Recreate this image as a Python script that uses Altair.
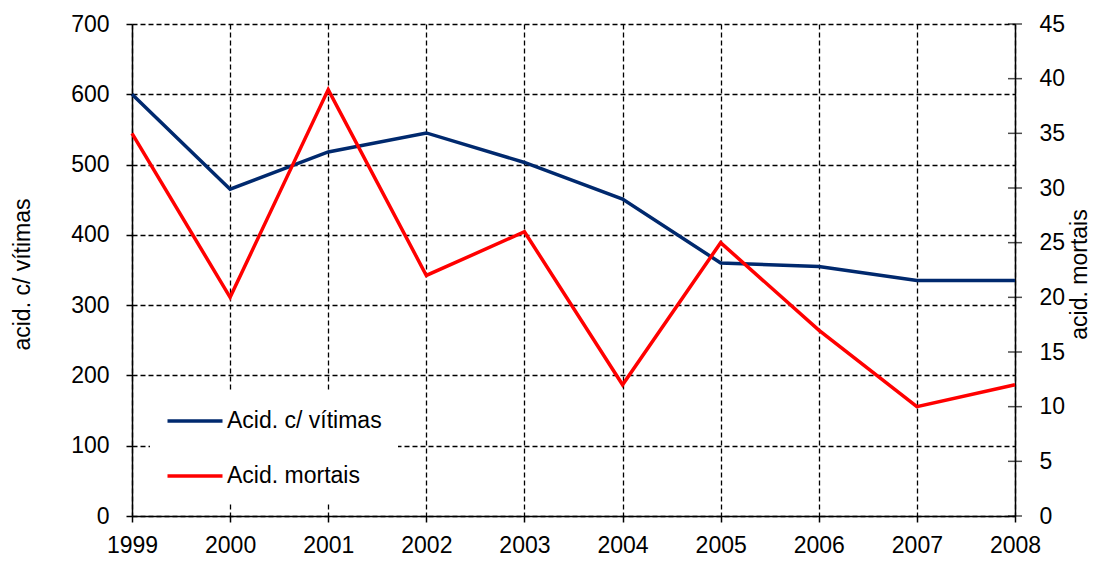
import altair as alt
import pandas as pd

years = [1999, 2000, 2001, 2002, 2003, 2004, 2005, 2006, 2007, 2008]
vitimas = [600, 465, 518, 545, 503, 451, 360, 355, 335, 335]
mortais = [35, 20, 39, 22, 26, 12, 25, 17, 10, 12]
series_names = ["Acid. c/ vítimas", "Acid. mortais"]
series_colors = ["#00296E", "#FF0000"]
left_ticks = [0, 100, 200, 300, 400, 500, 600, 700]
right_ticks = [0, 5, 10, 15, 20, 25, 30, 35, 40, 45]

df_v = pd.DataFrame({"ano": years, "valor": vitimas, "serie": series_names[0]})
df_m = pd.DataFrame({"ano": years, "valor": mortais, "serie": series_names[1]})
df_t = pd.DataFrame({"ano": [years[-1]] * len(right_ticks), "valor": right_ticks})

FONT = "Liberation Sans"
FS = 23

x_enc = alt.X(
    "ano:Q",
    scale=alt.Scale(domain=[1999, 2008], nice=False, zero=False),
    axis=alt.Axis(
        values=years, format="d", title=None,
        grid=True, gridDash=[5, 3], gridColor="black", gridWidth=1.3, gridOpacity=1,
        tickSize=6, tickColor="black", tickWidth=1.5,
        domainColor="black", domainWidth=1.5,
        labelFlush=False, labelOverlap=False,
        labelPadding=12, labelFontSize=FS, labelFont=FONT, labelColor="black",
    ),
)

color_enc = alt.Color(
    "serie:N",
    scale=alt.Scale(domain=series_names, range=series_colors),
    legend=alt.Legend(
        title=None, orient="none", legendX=18, legendY=368,
        fillColor="white", padding=16, symbolType="M-2.5,0H2.5", symbolSize=484,
        symbolOffset=16, symbolStrokeWidth=3.5, labelFontSize=FS, labelFont=FONT,
        labelColor="black", rowPadding=30, labelOffset=19,
    ),
)

blue = alt.Chart(df_v).mark_line(strokeWidth=3.5).encode(
    x=x_enc,
    y=alt.Y(
        "valor:Q",
        scale=alt.Scale(domain=[0, 700], nice=False),
        axis=alt.Axis(
            values=left_ticks, title="acid. c/ vítimas", orient="left",
            grid=True, gridDash=[5, 3], gridColor="black", gridWidth=1.3, gridOpacity=1,
            tickSize=6, tickColor="black", tickWidth=1.5,
            domainColor="black", domainWidth=1.5,
            labelPadding=17, labelFontSize=FS, labelFont=FONT, labelColor="black",
            titleFontSize=FS, titleFont=FONT, titleFontWeight="normal", titleColor="black",
            titleX=-110, titleY=250, titleAngle=-90, titleAlign="center", titleBaseline="middle",
        ),
    ),
    color=color_enc,
)

red = alt.Chart(df_m).mark_line(strokeWidth=3.5).encode(
    x=x_enc,
    y=alt.Y(
        "valor:Q",
        scale=alt.Scale(domain=[0, 45], nice=False),
        axis=alt.Axis(
            values=right_ticks, title="acid. mortais", orient="right",
            grid=False, ticks=False,
            domainColor="black", domainWidth=1.5,
            labelPadding=24, labelFontSize=FS, labelFont=FONT, labelColor="black",
            titleFontSize=FS, titleFont=FONT, titleFontWeight="normal", titleColor="black",
            titleX=64, titleY=250, titleAngle=-90, titleAlign="center", titleBaseline="middle",
        ),
    ),
    color=color_enc,
)

rticks = alt.Chart(df_t).mark_tick(orient="horizontal", size=14, thickness=1.5, color="black").encode(
    x=x_enc,
    y=alt.Y("valor:Q", scale=alt.Scale(domain=[0, 45], nice=False), axis=None),
)

chart = (
    alt.layer(blue, red, rticks)
    .resolve_scale(y="independent")
    .properties(
        width=883, height=492,
        autosize=alt.AutoSizeParams(type="none"),
        padding={"left": 124, "top": 16, "right": 78, "bottom": 42},
        background="white",
    )
    .configure_view(strokeWidth=0)
)

chart.save("out.html", embed_options={"renderer": "svg", "actions": False})
